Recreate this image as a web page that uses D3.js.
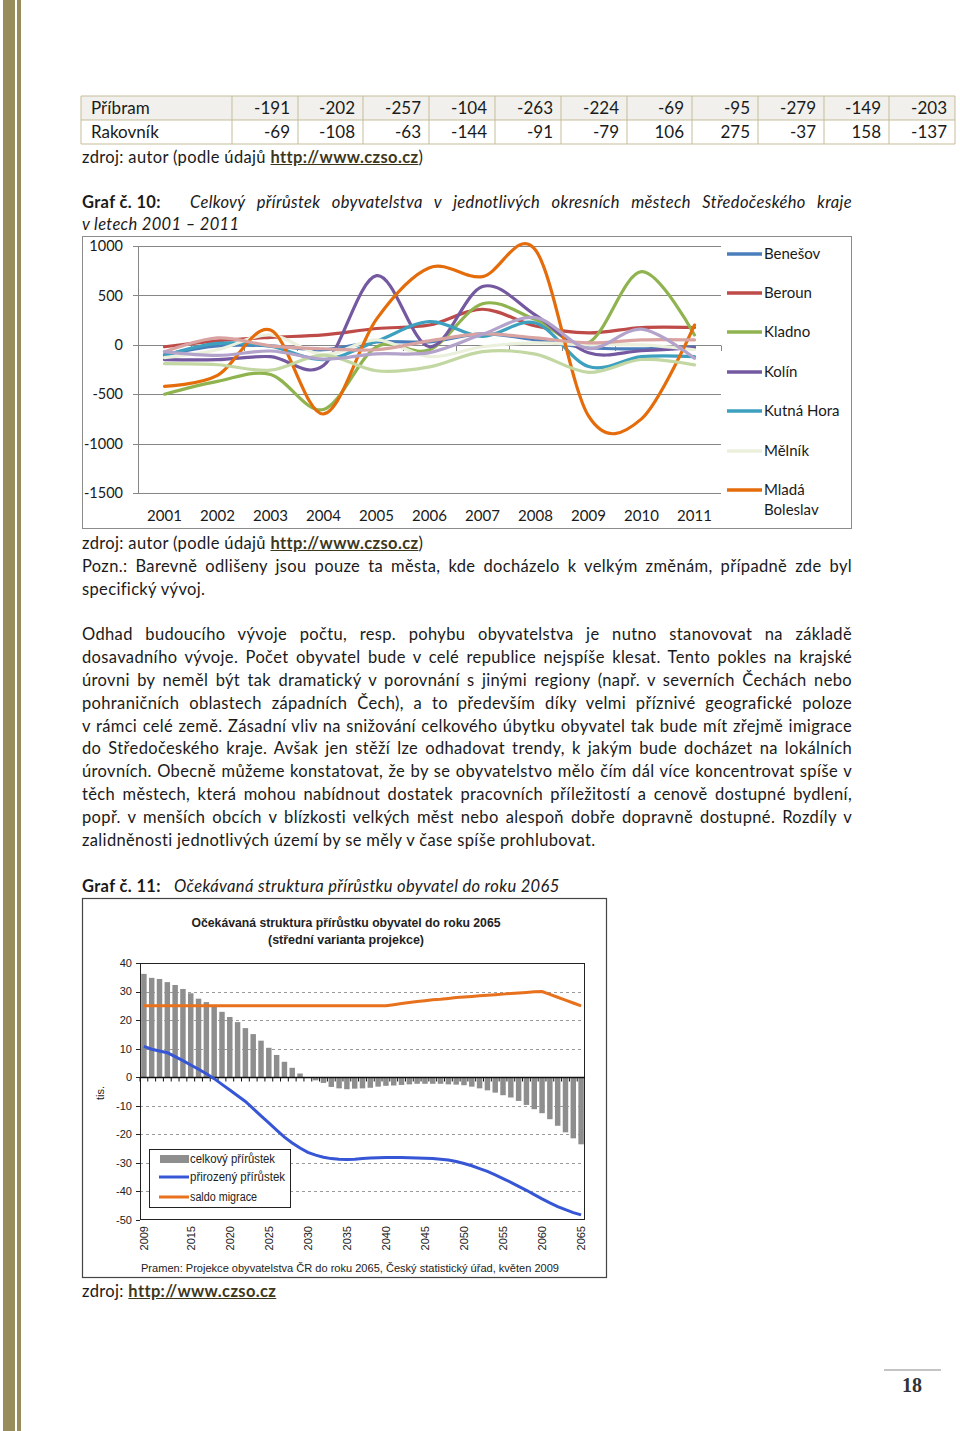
<!DOCTYPE html>
<html><head><meta charset="utf-8">
<script src="https://cdn.jsdelivr.net/npm/d3@7"></script>
<style>
body{margin:0;background:#fff;}
#page{position:relative;width:960px;height:1431px;overflow:hidden;font-family:Lato,'Open Sans',sans-serif;color:#1a1a1a;}
.t{position:absolute;font-size:16.5px;letter-spacing:0.35px;line-height:20px;white-space:nowrap;}
.j{position:absolute;font-size:16.5px;letter-spacing:0.35px;line-height:20px;text-align:justify;text-align-last:justify;white-space:nowrap;}
.lnk{font-weight:bold;text-decoration:underline;color:#3d3720;}
</style></head>
<body><div id="page"><svg id="svg" width="960" height="1431" style="position:absolute;left:0;top:0"></svg></div>
<script>
// ---------- table data ----------
const tableCols = ["2001","2002","2003","2004","2005","2006","2007","2008","2009","2010","2011"];
const tablePribram = [-191,-202,-257,-104,-263,-224,-69,-95,-279,-149,-203];
const tableRakovnik = [-69,-108,-63,-144,-91,-79,106,275,-37,158,-137];

// ---------- chart 1 data ----------
const years1 = [2001,2002,2003,2004,2005,2006,2007,2008,2009,2010,2011];
const yTicks1 = [1000,500,0,-500,-1000,-1500];
const benesov = [-100,-10,-10,-50,30,30,110,50,-30,-40,-20];
const beroun = [-20,40,75,100,165,200,360,190,120,175,175];
const kladno = [-500,-370,-300,-655,-20,-50,415,255,20,740,100];
const kolin = [-150,-150,-120,-210,700,-20,590,300,-80,-60,-30];
const kutnaHora = [-110,15,-15,-150,35,235,85,220,-220,-120,-120];
const melnik = [-130,-50,100,-100,50,-120,-20,20,0,0,-50];
const mladaBoleslav = [-420,-310,150,-700,260,780,690,960,-720,-750,200];
const nymburk = [-70,70,-10,-40,-50,40,110,70,20,50,50];
const pribram = tablePribram;
const rakovnik = tableRakovnik;
const legend1 = ["Benešov","Beroun","Kladno","Kolín","Kutná Hora","Mělník","Mladá Boleslav"];

// ---------- chart 2 data ----------
const years2 = [2009,2010,2011,2012,2013,2014,2015,2016,2017,2018,2019,2020,2021,2022,2023,2024,2025,2026,2027,2028,2029,2030,2031,2032,2033,2034,2035,2036,2037,2038,2039,2040,2041,2042,2043,2044,2045,2046,2047,2048,2049,2050,2051,2052,2053,2054,2055,2056,2057,2058,2059,2060,2061,2062,2063,2064,2065];
const xTicks2 = [2009,2015,2020,2025,2030,2035,2040,2045,2050,2055,2060,2065];
const yTicks2 = [40,30,20,10,0,-10,-20,-30,-40,-50];
const celkovy = [36.2,34.8,34.4,33.3,32.3,30.9,29.4,27.5,26.3,24.7,22.9,21.1,19.3,17.2,15.1,12.8,10.3,7.8,5.4,3.3,1.3,-0.3,-1.1,-2.0,-3.4,-3.9,-4.2,-4.0,-3.9,-3.7,-3.3,-3.0,-2.9,-2.7,-2.5,-2.3,-2.3,-2.3,-2.3,-2.5,-2.6,-2.8,-3.3,-3.9,-4.6,-5.4,-6.3,-7.1,-8.3,-9.7,-11.2,-12.6,-14.7,-17.0,-19.3,-21.4,-23.5];
const prirozeny = [10.8,9.8,9.2,8.6,7.2,5.8,4.3,2.8,1.2,-0.5,-2.5,-4.5,-6.5,-8.5,-11,-13.5,-16,-18.5,-21,-23,-24.8,-26.3,-27.3,-28,-28.5,-28.7,-28.8,-28.7,-28.5,-28.3,-28.2,-28.1,-28.1,-28.1,-28.2,-28.3,-28.4,-28.5,-28.7,-29.0,-29.5,-30.2,-31.0,-32.0,-33.0,-34.2,-35.5,-36.8,-38.2,-39.6,-41.1,-42.6,-44.0,-45.3,-46.4,-47.4,-48.2];
const saldo = [25,25,25,25,25,25,25,25,25,25,25,25,25,25,25,25,25,25,25,25,25,25,25,25,25,25,25,25,25,25,25,25,25.4,25.8,26.2,26.5,26.8,27.1,27.3,27.6,27.9,28.1,28.3,28.5,28.7,28.9,29.1,29.3,29.5,29.7,29.9,30.0,29.0,28.0,27.0,26.0,25.0];

const page = d3.select('#page');
const svg = d3.select('#svg');

// left border stripes
svg.append('rect').attr('x',3).attr('y',0).attr('width',12).attr('height',1431).attr('fill','#988c5c');
svg.append('rect').attr('x',17).attr('y',0).attr('width',4).attr('height',1431).attr('fill','#988c5c');

// ---------- table ----------
const colEdges = [81,232,298,363,429,495,561,627,692,758,824,889,955];
const rowTops = [96,120,144];
const tbl = svg.append('g');
tbl.append('rect').attr('x',81).attr('y',96).attr('width',874).attr('height',24).attr('fill','#f1f0ec');
[[tablePribram,'Příbram'],[tableRakovnik,'Rakovník']].forEach(([vals,name],r)=>{
  const cy = rowTops[r]+12;
  tbl.append('text').attr('x',91).attr('y',cy).attr('dy','0.36em').attr('font-size',17).attr('font-family','Lato').attr('fill','#1a1a1a').text(name);
  vals.forEach((v,i)=>{
    tbl.append('text').attr('x',colEdges[i+2]-8).attr('y',cy).attr('dy','0.36em').attr('text-anchor','end')
      .attr('font-size',17).attr('font-family','Lato').attr('fill','#1a1a1a').text(String(v));
  });
});
rowTops.forEach(y=>tbl.append('line').attr('x1',81).attr('x2',955).attr('y1',y).attr('y2',y).attr('stroke','#c4bd97'));
colEdges.forEach(x=>tbl.append('line').attr('x1',x).attr('x2',x).attr('y1',96).attr('y2',144).attr('stroke','#c4bd97'));

// ---------- text ----------
function addT(html,left,center,cls,extra){
  const d = page.append('div').attr('class',cls||'t').style('left',left+'px').style('top',(center-10)+'px').html(html);
  if(extra) Object.entries(extra).forEach(([k,v])=>d.style(k,v));
  return d;
}
const zdroj = 'zdroj: autor (podle údajů <span class="lnk">http://www.czso.cz</span>)';
addT(zdroj,82,157);
addT('<b>Graf č. 10:</b>',82,202);
addT('<i>Celkový přírůstek obyvatelstva v jednotlivých okresních městech Středočeského kraje</i>',190,202,'j',{width:'662px'});
addT('<i>v letech 2001 – 2011</i>',82,224);
addT(zdroj,82,543);
addT('Pozn.: Barevně odlišeny jsou pouze ta města, kde docházelo k velkým změnám, případně zde byl',82,566,'j',{width:'770px'});
addT('specifický vývoj.',82,589);
const para = [
 "Odhad budoucího vývoje počtu, resp. pohybu obyvatelstva je nutno stanovovat na základě",
 "dosavadního vývoje. Počet obyvatel bude v celé republice nejspíše klesat. Tento pokles na krajské",
 "úrovni by neměl být tak dramatický v porovnání s jinými regiony (např. v severních Čechách nebo",
 "pohraničních oblastech západních Čech), a to především díky velmi příznivé geografické poloze",
 "v rámci celé země. Zásadní vliv na snižování celkového úbytku obyvatel tak bude mít zřejmě imigrace",
 "do Středočeského kraje. Avšak jen stěží lze odhadovat trendy, k jakým bude docházet na lokálních",
 "úrovních. Obecně můžeme konstatovat, že by se obyvatelstvo mělo čím dál více koncentrovat spíše v",
 "těch městech, která mohou nabídnout dostatek pracovních příležitostí a cenově dostupné bydlení,",
 "popř. v menších obcích v blízkosti velkých měst nebo alespoň dobře dopravně dostupné. Rozdíly v",
 "zalidněnosti jednotlivých území by se měly v čase spíše prohlubovat."
];
const paraY = [634,657,680,703,726,748,771,794,817,840];
para.forEach((s,i)=>{
  if(i<para.length-1) addT(s,82,paraY[i],'j',{width:'770px'});
  else addT(s,82,paraY[i]);
});
addT('<b>Graf č. 11:</b>',82,886);
addT('<i>Očekávaná struktura přírůstku obyvatel do roku 2065</i>',174,886);
addT('zdroj: <span class="lnk">http://www.czso.cz</span>',82,1291);

// page number
svg.append('line').attr('x1',884).attr('x2',941).attr('y1',1370).attr('y2',1370).attr('stroke','#b0b0b0').attr('stroke-width',1.5);
svg.append('text').attr('x',912).attr('y',1385).attr('dy','0.35em').attr('text-anchor','middle')
  .attr('font-family','Liberation Serif').attr('font-weight','bold').attr('font-size',20).attr('fill','#333').text('18');

// ---------- chart 1 ----------
const c1 = svg.append('g');
c1.append('rect').attr('x',82.5).attr('y',236.5).attr('width',769).attr('height',292).attr('fill','none').attr('stroke','#8c8c8c');
const x1 = d3.scaleBand().domain(years1).range([138,721]);
const y1 = d3.scaleLinear().domain([-1500,1000]).range([493,246]);
const gcol = '#868686';
c1.append('g').selectAll('line').data(yTicks1).join('line')
  .attr('x1',133).attr('x2',721).attr('y1',d=>Math.round(y1(d))+0.5).attr('y2',d=>Math.round(y1(d))+0.5)
  .attr('stroke',gcol);
c1.append('line').attr('x1',138.5).attr('x2',138.5).attr('y1',Math.round(y1(1000))+0.5).attr('y2',Math.round(y1(-1500))+0.5).attr('stroke',gcol);
c1.append('g').selectAll('text').data(yTicks1).join('text')
  .attr('x',123).attr('y',d=>y1(d)).attr('dy','0.36em').attr('text-anchor','end')
  .attr('font-family','Lato').attr('font-size',14.5).attr('fill','#1a1a1a').text(d=>d);
// category axis at 0 with tick marks at band edges
const bEdges = years1.map(d=>x1(d)).concat([x1.range()[1]]);
c1.append('g').selectAll('line').data(bEdges).join('line')
  .attr('x1',d=>Math.round(d)+0.5).attr('x2',d=>Math.round(d)+0.5)
  .attr('y1',Math.round(y1(0))+0.5).attr('y2',Math.round(y1(0))+6).attr('stroke',gcol);
c1.append('g').selectAll('text').data(years1).join('text')
  .attr('x',d=>x1(d)+x1.bandwidth()/2).attr('y',516).attr('dy','0.36em').attr('text-anchor','middle')
  .attr('font-family','Lato').attr('font-size',15).attr('fill','#1a1a1a').text(d=>d);
const series1 = [
  {name:'Benešov',vals:benesov,color:'#4a7ebb'},
  {name:'Beroun',vals:beroun,color:'#be4b48'},
  {name:'Kladno',vals:kladno,color:'#8fb34e'},
  {name:'Kolín',vals:kolin,color:'#7458a0'},
  {name:'Kutná Hora',vals:kutnaHora,color:'#3ea0bf'},
  {name:'Mělník',vals:melnik,color:'#eaf0dc'},
  {name:'Mladá Boleslav',vals:mladaBoleslav,color:'#e46c0a'},
  {name:'Nymburk',vals:nymburk,color:'#d9a3a1'},
  {name:'Příbram',vals:pribram,color:'#c3d7a2'},
  {name:'Rakovník',vals:rakovnik,color:'#b3a2c9'}
];
const line1 = d3.line().x((d,i)=>x1(years1[i])+x1.bandwidth()/2).y(d=>y1(d)).curve(d3.curveCatmullRom.alpha(0));
c1.append('g').selectAll('path').data(series1).join('path')
  .attr('d',d=>line1(d.vals)).attr('fill','none').attr('stroke',d=>d.color).attr('stroke-width',3.2)
  .attr('stroke-linecap','round').attr('stroke-linejoin','round');
// legend
const legY = [254,293,332,372,411,451,490];
legend1.forEach((n,i)=>{
  const s = series1[i];
  c1.append('line').attr('x1',727).attr('x2',762).attr('y1',legY[i]).attr('y2',legY[i]).attr('stroke',s.color).attr('stroke-width',3.5);
  if(n==='Mladá Boleslav'){
    c1.append('text').attr('x',764).attr('y',legY[i]).attr('dy','0.36em').attr('font-family','Lato').attr('font-size',15).attr('fill','#1a1a1a').text('Mladá');
    c1.append('text').attr('x',764).attr('y',legY[i]+20).attr('dy','0.36em').attr('font-family','Lato').attr('font-size',15).attr('fill','#1a1a1a').text('Boleslav');
  } else {
    c1.append('text').attr('x',764).attr('y',legY[i]).attr('dy','0.36em').attr('font-family','Lato').attr('font-size',15).attr('fill','#1a1a1a').text(n);
  }
});

// ---------- chart 2 ----------
const c2 = svg.append('g').attr('font-family','Liberation Sans, Arial, sans-serif');
c2.append('rect').attr('x',82.5).attr('y',898.5).attr('width',524).attr('height',379).attr('fill','#fff').attr('stroke','#444').attr('stroke-width',1.2);
c2.append('text').attr('x',346).attr('y',922).attr('dy','0.35em').attr('text-anchor','middle').attr('font-weight','bold').attr('font-size',13)
  .attr('textLength',309).attr('lengthAdjust','spacingAndGlyphs').attr('fill','#222').text('Očekávaná struktura přírůstku obyvatel do roku 2065');
c2.append('text').attr('x',346).attr('y',939).attr('dy','0.35em').attr('text-anchor','middle').attr('font-weight','bold').attr('font-size',13)
  .attr('textLength',156).attr('lengthAdjust','spacingAndGlyphs').attr('fill','#222').text('(střední varianta projekce)');
const x2 = d3.scaleBand().domain(years2).range([140,585]).paddingInner(0.3).paddingOuter(0.15);
const y2 = d3.scaleLinear().domain([-50,40]).range([1220,963]);
// dashed grid
c2.append('g').selectAll('line').data(yTicks2.filter(d=>d!==40&&d!==-50&&d!==0)).join('line')
  .attr('x1',140).attr('x2',585).attr('y1',d=>Math.round(y2(d))+0.5).attr('y2',d=>Math.round(y2(d))+0.5)
  .attr('stroke','#9a9a9a').attr('stroke-dasharray','3,3');
// bars
c2.append('g').selectAll('rect').data(celkovy).join('rect')
  .attr('x',(d,i)=>x2(years2[i])).attr('width',x2.bandwidth())
  .attr('y',d=>Math.min(y2(d),y2(0))).attr('height',d=>Math.abs(y2(d)-y2(0)))
  .attr('fill','#8e8e8e');
// plot border
c2.append('rect').attr('x',140.5).attr('y',963.5).attr('width',444).attr('height',256).attr('fill','none').attr('stroke','#222');
// zero axis and ticks
const z0 = Math.round(y2(0))+0.5;
c2.append('line').attr('x1',140).attr('x2',585).attr('y1',z0).attr('y2',z0).attr('stroke','#111').attr('stroke-width',1.3);
const step2 = x2.step();
c2.append('g').selectAll('line').data(years2).join('line')
  .attr('x1',d=>x2(d)-step2*0.15).attr('x2',d=>x2(d)-step2*0.15).attr('y1',z0).attr('y2',z0+4).attr('stroke','#111');
// y axis ticks and labels
c2.append('g').selectAll('line').data(yTicks2).join('line')
  .attr('x1',136).attr('x2',140).attr('y1',d=>Math.round(y2(d))+0.5).attr('y2',d=>Math.round(y2(d))+0.5).attr('stroke','#222');
c2.append('g').selectAll('text').data(yTicks2).join('text')
  .attr('x',132).attr('y',d=>y2(d)).attr('dy','0.35em').attr('text-anchor','end').attr('font-size',11).attr('fill','#222').text(d=>d);
c2.append('text').attr('transform','translate(100,1093) rotate(-90)').attr('dy','0.35em').attr('text-anchor','middle')
  .attr('font-size',11).attr('fill','#222').text('tis.');
// x labels
c2.append('g').selectAll('text').data(xTicks2).join('text')
  .attr('transform',d=>`translate(${x2(d)+x2.bandwidth()/2},1226) rotate(-90)`).attr('dy','0.35em').attr('text-anchor','end')
  .attr('font-size',11).attr('fill','#222').text(d=>d);
// lines
const line2 = d3.line().x((d,i)=>x2(years2[i])+x2.bandwidth()/2).y(d=>y2(d));
c2.append('path').attr('d',line2(saldo)).attr('fill','none').attr('stroke','#e8711d').attr('stroke-width',3);
c2.append('path').attr('d',line2(prirozeny)).attr('fill','none').attr('stroke','#3656d6').attr('stroke-width',3);
// legend
c2.append('rect').attr('x',149.5).attr('y',1149.5).attr('width',141).attr('height',58).attr('fill','#fff').attr('stroke','#222');
c2.append('rect').attr('x',160).attr('y',1155).attr('width',29).attr('height',8).attr('fill','#8e8e8e');
c2.append('line').attr('x1',159).attr('x2',189).attr('y1',1177).attr('y2',1177).attr('stroke','#3656d6').attr('stroke-width',3);
c2.append('line').attr('x1',159).attr('x2',189).attr('y1',1197).attr('y2',1197).attr('stroke','#e8711d').attr('stroke-width',3);
[['celkový přírůstek',1159,85],['přirozený přírůstek',1177,95],['saldo migrace',1197,67]].forEach(([t,y,w])=>{
  c2.append('text').attr('x',190).attr('y',y).attr('dy','0.35em').attr('font-size',12).attr('textLength',w).attr('lengthAdjust','spacingAndGlyphs').attr('fill','#222').text(t);
});
c2.append('text').attr('x',141).attr('y',1268).attr('dy','0.35em').attr('font-size',11.5).attr('textLength',418).attr('lengthAdjust','spacingAndGlyphs')
  .attr('fill','#222').text('Pramen: Projekce obyvatelstva ČR do roku 2065, Český statistický úřad, květen 2009');
</script>
</body></html>
